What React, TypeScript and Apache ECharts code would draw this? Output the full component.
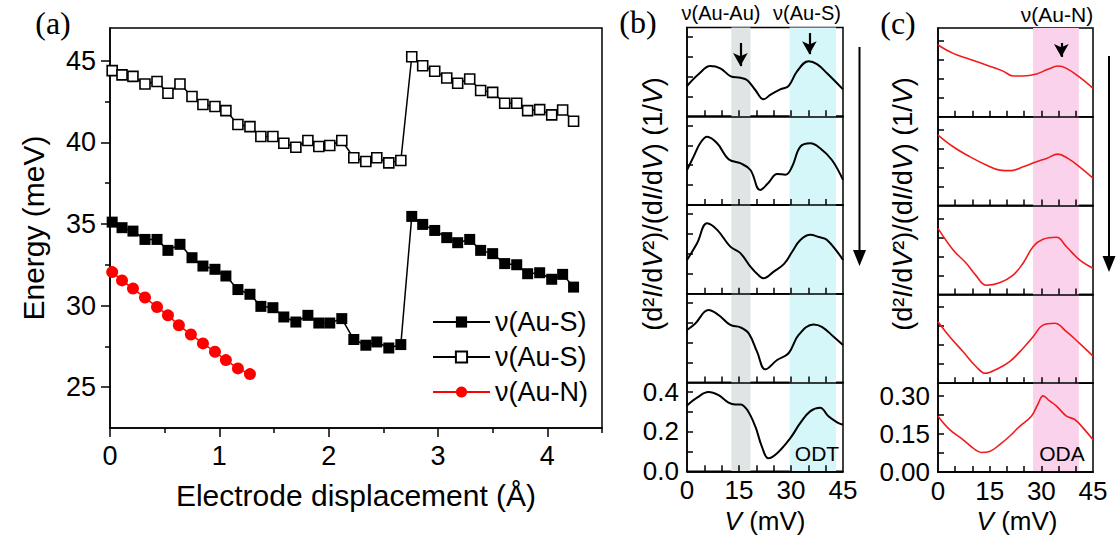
import React, { useEffect, useRef } from "react";
import * as echarts from "echarts";

const FONT = '"Liberation Sans", Arial, Helvetica, sans-serif';
const SERIF = '"Liberation Serif", "Times New Roman", serif';

// ---------- Panel (a) ----------
const displacement = [0.02, 0.11, 0.21, 0.32, 0.43, 0.53, 0.64, 0.75, 0.85, 0.96, 1.06, 1.17, 1.28, 1.38, 1.49, 1.59, 1.7, 1.81, 1.91, 2.01, 2.12, 2.23, 2.34, 2.44, 2.55, 2.66, 2.76, 2.86, 2.97, 3.08, 3.18, 3.29, 3.39, 3.5, 3.61, 3.72, 3.82, 3.93, 4.04, 4.14, 4.24];
const auSFilled = [35.11, 34.77, 34.56, 34.05, 34.05, 33.38, 33.75, 32.93, 32.42, 32.22, 31.81, 30.98, 30.69, 29.95, 29.87, 29.3, 28.99, 29.4, 28.93, 28.93, 29.2, 27.92, 27.57, 27.77, 27.4, 27.61, 35.46, 34.97, 34.6, 34.16, 33.85, 34.05, 33.38, 33.18, 32.57, 32.5, 31.95, 32.01, 31.61, 31.91, 31.13];
const auSOpen = [44.39, 44.13, 44.04, 43.57, 43.72, 43.0, 43.57, 42.8, 42.31, 42.19, 41.94, 41.09, 40.96, 40.35, 40.35, 39.94, 39.7, 40.11, 39.74, 39.8, 40.11, 39.05, 38.82, 39.05, 38.74, 38.88, 45.24, 44.69, 44.35, 43.94, 43.62, 43.88, 43.17, 43.06, 42.39, 42.39, 41.94, 42.0, 41.68, 41.98, 41.29];
const displacementN = [0.02, 0.11, 0.21, 0.32, 0.43, 0.53, 0.63, 0.74, 0.85, 0.96, 1.06, 1.17, 1.28];
const auN = [32.05, 31.54, 31.04, 30.49, 29.91, 29.4, 28.79, 28.23, 27.68, 27.17, 26.66, 26.15, 25.8];
const aXTicks = [0, 1, 2, 3, 4];
const aXMinor = [0.5, 1.5, 2.5, 3.5, 4.5];
const aYTicks = [25, 30, 35, 40, 45];
const aYMinor = [27.5, 32.5, 37.5, 42.5];

// ---------- Panel (b) ODT spectra (top to bottom) ----------
const odtV1 = [0, 3.4, 6.7, 9.6, 12.5, 15.4, 17.3, 19.7, 22.1, 24, 26.9, 29.3, 31.7, 35.1, 37.5, 40.4, 45];
const odtY1 = [0.152, 0.212, 0.252, 0.241, 0.202, 0.193, 0.182, 0.132, 0.085, 0.107, 0.135, 0.152, 0.224, 0.277, 0.262, 0.216, 0.135];
const odtV2 = [0, 1.9, 3.8, 5.8, 8.7, 12, 15.4, 18.3, 21.1, 23.5, 26, 28.4, 30.3, 32.7, 35.6, 38.4, 41.8, 45];
const odtY2 = [0.176, 0.243, 0.31, 0.343, 0.31, 0.23, 0.21, 0.176, 0.075, 0.112, 0.156, 0.152, 0.192, 0.293, 0.31, 0.285, 0.226, 0.126];
const odtV3 = [0, 2.9, 5.8, 8.7, 12.5, 15.4, 18.3, 20.5, 22.1, 25, 28, 30.3, 32.7, 35.6, 38, 40.4, 45];
const odtY3 = [0.17, 0.254, 0.354, 0.321, 0.237, 0.204, 0.136, 0.095, 0.078, 0.111, 0.15, 0.21, 0.27, 0.296, 0.285, 0.27, 0.17];
const odtV4 = [0, 2.4, 6.2, 9.1, 12.5, 15.4, 17.8, 20.2, 22.6, 26, 29.3, 32.2, 36.5, 38.9, 42.3, 45];
const odtY4 = [0.264, 0.297, 0.364, 0.339, 0.289, 0.277, 0.247, 0.155, 0.066, 0.113, 0.147, 0.239, 0.292, 0.28, 0.23, 0.188];
const odtV5 = [0, 2.9, 6.2, 9.1, 12, 13.9, 15.4, 17.3, 19.7, 21.6, 23.5, 26, 29.8, 32.7, 35.6, 38.4, 40.8, 43.3, 45];
const odtY5 = [0.331, 0.37, 0.398, 0.382, 0.345, 0.336, 0.336, 0.31, 0.225, 0.124, 0.065, 0.09, 0.166, 0.243, 0.302, 0.319, 0.276, 0.246, 0.234];

// ---------- Panel (c) ODA spectra (top to bottom) ----------
const odaV1 = [0, 4.4, 9.2, 14, 18.9, 21.8, 24.7, 28.6, 31.9, 34.8, 37.3, 41.1, 45];
const odaY1 = [0.283, 0.25, 0.227, 0.204, 0.18, 0.161, 0.161, 0.169, 0.187, 0.2, 0.191, 0.156, 0.112];
const odaV2 = [0, 4.4, 9.2, 14, 17.9, 21.3, 24.7, 28.6, 31.5, 34.8, 37.7, 41.1, 45];
const odaY2 = [0.278, 0.232, 0.193, 0.16, 0.14, 0.138, 0.153, 0.173, 0.186, 0.203, 0.186, 0.153, 0.108];
const odaV3 = [0, 4.4, 8.2, 11, 14, 17.9, 21.8, 24.7, 27.6, 30.5, 34.4, 37.3, 41.1, 45];
const odaY3 = [0.26, 0.175, 0.123, 0.075, 0.036, 0.046, 0.076, 0.123, 0.188, 0.217, 0.225, 0.188, 0.136, 0.103];
const odaV4 = [0, 3.4, 7.3, 11.1, 13.8, 17, 20.8, 24.7, 27.6, 30.5, 33.9, 37.3, 41.1, 45];
const odaY4 = [0.242, 0.183, 0.124, 0.065, 0.039, 0.055, 0.085, 0.138, 0.183, 0.229, 0.236, 0.203, 0.157, 0.107];
const odaV5 = [0, 3.4, 7.3, 10.2, 12.6, 15, 17.9, 20.8, 23.7, 27.1, 29, 30.5, 32.4, 34.4, 37.3, 39.7, 42.1, 45];
const odaY5 = [0.22, 0.167, 0.127, 0.094, 0.077, 0.081, 0.108, 0.141, 0.18, 0.22, 0.267, 0.3, 0.28, 0.26, 0.22, 0.207, 0.174, 0.127];

const vTicks = [5, 10, 15, 20, 25, 30, 35, 40];
const vLabels = [0, 15, 30, 45];
const bYTicks = [0.1, 0.2, 0.3, 0.4];
const bYLabels = [0, 0.2, 0.4];
const cYTicks = [0.075, 0.15, 0.225, 0.3];
const cYLabels = [0, 0.15, 0.3];
const bandAuAu = [12.8, 18.3];
const bandAuS = [29.6, 43.0];
const bandAuN = [27.6, 40.9];
// arrows: [V, from, to]
const arrowAuAu = [15.4, 0.368, 0.252];
const arrowAuS = [35.3, 0.418, 0.312];
const arrowAuN = [35.8, 0.291, 0.236];

const pairs = (xs: number[], ys: number[]) => xs.map((x, i) => [x, ys[i]]);

const BL = 687, BW = 156, BT = 27.5, BH = 88.75;
const CL = 938, CW = 155, CT = 28, CH = 88.8;

function buildOption() {
  const grids: any[] = [];
  const xAxes: any[] = [];
  const yAxes: any[] = [];
  const series: any[] = [];
  const black = { color: "#000", width: 1.5 };
  const tickLabelStyle = { color: "#000", fontFamily: FONT };

  // ---- panel (a) ----
  grids.push({ left: 110, top: 28, width: 492, height: 400, show: true, borderColor: "#000", borderWidth: 1.5, backgroundColor: "transparent" });
  xAxes.push({
    gridIndex: 0, type: "value", min: 0, max: 4.5, interval: 0.5, position: "bottom", z: 3,
    axisLine: { show: true, lineStyle: black },
    axisTick: { show: true, length: 9, customValues: aXTicks, lineStyle: black },
    axisLabel: { customValues: aXTicks, formatter: (v: number) => (Number.isInteger(v) ? String(v) : ""), fontSize: 27, margin: 14, ...tickLabelStyle },
    splitLine: { show: false },
    name: "Electrode displacement (Å)", nameLocation: "middle", nameGap: 52,
    nameTextStyle: { fontSize: 30, color: "#000", fontFamily: FONT },
  });
  xAxes.push({
    gridIndex: 0, type: "value", min: 0, max: 4.5, interval: 0.5, position: "bottom", z: 3,
    axisLine: { show: false },
    axisTick: { show: true, length: 5, customValues: aXMinor, lineStyle: black },
    axisLabel: { show: false }, splitLine: { show: false },
  });
  yAxes.push({
    gridIndex: 0, type: "value", min: 22.5, max: 47, interval: 2.5, position: "left", z: 3,
    axisLine: { show: true, lineStyle: black },
    axisTick: { show: true, length: 9, customValues: aYTicks, lineStyle: black },
    axisLabel: { customValues: aYTicks, formatter: (v: number) => (v % 5 === 0 ? String(v) : ""), fontSize: 27, margin: 14, ...tickLabelStyle },
    splitLine: { show: false },
    name: "Energy (meV)", nameLocation: "middle", nameGap: 62, nameRotate: 90,
    nameTextStyle: { fontSize: 30, color: "#000", fontFamily: FONT },
  });
  yAxes.push({
    gridIndex: 0, type: "value", min: 22.5, max: 47, interval: 2.5, position: "left", z: 3,
    axisLine: { show: false },
    axisTick: { show: true, length: 5, customValues: aYMinor, lineStyle: black },
    axisLabel: { show: false }, splitLine: { show: false },
  });
  series.push({
    name: "ν(Au-S)", type: "line", xAxisIndex: 0, yAxisIndex: 0, z: 5,
    data: pairs(displacement, auSFilled), symbol: "rect", symbolSize: 11,
    lineStyle: { color: "#000", width: 1.5 }, itemStyle: { color: "#000" },
  });
  series.push({
    name: "ν(Au-S) ", type: "line", xAxisIndex: 0, yAxisIndex: 0, z: 5,
    data: pairs(displacement, auSOpen), symbol: "rect", symbolSize: 10,
    lineStyle: { color: "#000", width: 1.5 }, itemStyle: { color: "#fff", borderColor: "#000", borderWidth: 1.6 },
  });
  series.push({
    name: "ν(Au-N)", type: "line", xAxisIndex: 0, yAxisIndex: 0, z: 5,
    data: pairs(displacementN, auN), symbol: "circle", symbolSize: 12,
    lineStyle: { color: "#ff0000", width: 1.5 }, itemStyle: { color: "#ff0000" },
  });

  // ---- stacked panels helper ----
  const stacked = (
    left: number, width: number, top: number, h: number, yMax: number,
    yTicks: number[], yLabels: number[], digits: number,
    curves: number[][][], color: string, lw: number,
    bands: { range: number[]; color: string }[], arrows: number[][]
  ) => {
    for (let k = 0; k < 5; k++) {
      const gi = grids.length;
      const ai = xAxes.length;
      grids.push({ left, top: top + h * k, width, height: h, show: true, borderColor: "#000", borderWidth: 1.5, backgroundColor: "transparent" });
      const last = k === 4;
      xAxes.push({
        gridIndex: gi, type: "value", min: 0, max: 45, interval: 5, position: "bottom", z: 3,
        axisLine: { show: true, lineStyle: black },
        axisTick: { show: true, inside: true, length: 6, customValues: vTicks, lineStyle: black },
        axisLabel: { show: last, customValues: vLabels, formatter: (v: number) => (v % 15 === 0 ? String(v) : ""), fontSize: 26, margin: 6, ...tickLabelStyle },
        splitLine: { show: false },
      });
      yAxes.push({
        gridIndex: gi, type: "value", min: 0, max: yMax, position: "left", z: 3,
        axisLine: { show: true, lineStyle: black },
        axisTick: { show: true, inside: true, length: 6, customValues: yTicks, lineStyle: black },
        axisLabel: { show: last, customValues: yLabels, formatter: (v: number) => v.toFixed(digits), fontSize: 26, margin: 8, ...tickLabelStyle },
        splitLine: { show: false },
      });
      const s: any = {
        type: "line", xAxisIndex: ai, yAxisIndex: ai, z: 6, smooth: 0.4, showSymbol: false, symbol: "none",
        data: pairs(curves[k][0], curves[k][1]), lineStyle: { color, width: lw }, silent: true,
      };
      if (k === 0) {
        s.markLine = {
          silent: true, symbol: ["none", "arrow"], symbolSize: [11, 13],
          lineStyle: { color: "#000", width: 2.2, type: "solid" }, label: { show: false },
          data: arrows.map((a) => [{ coord: [a[0], a[1]] }, { coord: [a[0], a[2]] }]),
        };
      }
      series.push(s);
    }
    // overlay grid for continuous bands + top frame line
    const oi = grids.length;
    const oa = xAxes.length;
    grids.push({ left, top, width, height: h * 5, show: false });
    xAxes.push({
      gridIndex: oi, type: "value", min: 0, max: 45, position: "top", z: 3,
      axisLine: { show: true, lineStyle: black }, axisTick: { show: false }, axisLabel: { show: false }, splitLine: { show: false },
    });
    yAxes.push({ gridIndex: oi, type: "value", min: 0, max: 1, show: false });
    series.push({
      type: "line", xAxisIndex: oa, yAxisIndex: oa, z: 1, data: [], silent: true,
      markArea: {
        silent: true,
        data: bands.map((b) => [{ xAxis: b.range[0], itemStyle: { color: b.color } }, { xAxis: b.range[1] }]),
      },
    });
  };

  stacked(BL, BW, BT, BH, 0.446, bYTicks, bYLabels, 1,
    [[odtV1, odtY1], [odtV2, odtY2], [odtV3, odtY3], [odtV4, odtY4], [odtV5, odtY5]],
    "#000", 2,
    [{ range: bandAuAu, color: "#dfe4e4" }, { range: bandAuS, color: "#d6f7fa" }],
    [arrowAuAu, arrowAuS]);
  stacked(CL, CW, CT, CH, 0.35, cYTicks, cYLabels, 2,
    [[odaV1, odaY1], [odaV2, odaY2], [odaV3, odaY3], [odaV4, odaY4], [odaV5, odaY5]],
    "#f01c1c", 1.6,
    [{ range: bandAuN, color: "#fbd2ec" }],
    [arrowAuN]);

  const yTitle = "(d²{i|I}/d{i|V}²)/(d{i|I}/d{i|V}) (1/{i|V})";
  const txt = (x: number, y: number, text: string, size: number, extra: any = {}) => ({
    type: "text", x, y, z: 10,
    style: { text, fontSize: size, fontFamily: FONT, fill: "#000", align: "center", verticalAlign: "middle", ...extra },
  });
  const italicRich = (size: number) => ({ i: { fontStyle: "italic", fontSize: size, fontFamily: FONT, fill: "#000" } });

  const graphic: any[] = [
    txt(53, 23, "(a)", 32, { fontFamily: SERIF }),
    txt(638, 22, "(b)", 32, { fontFamily: SERIF }),
    txt(898, 23, "(c)", 32, { fontFamily: SERIF }),
    txt(721, 13, "ν(Au-Au)", 20),
    txt(807, 13, "ν(Au-S)", 20),
    txt(1057, 14, "ν(Au-N)", 21),
    txt(817, 453, "ODT", 21),
    txt(1062, 453, "ODA", 21),
    { ...txt(653, 204, yTitle, 27, { rich: italicRich(27) }), rotation: Math.PI / 2 },
    { ...txt(903, 204, yTitle, 27, { rich: italicRich(27) }), rotation: Math.PI / 2 },
    txt(765, 521, "{i|V} (mV)", 26, { rich: italicRich(26) }),
    txt(1017, 521, "{i|V} (mV)", 26, { rich: italicRich(26) }),
    { type: "line", z: 10, shape: { x1: 859.5, y1: 47, x2: 859.5, y2: 252 }, style: { stroke: "#000", lineWidth: 2 } },
    { type: "polygon", z: 10, shape: { points: [[853, 250], [866, 250], [859.5, 266]] }, style: { fill: "#000" } },
    { type: "line", z: 10, shape: { x1: 1109, y1: 56, x2: 1109, y2: 258 }, style: { stroke: "#000", lineWidth: 2 } },
    { type: "polygon", z: 10, shape: { points: [[1102.5, 256], [1115.5, 256], [1109, 272]] }, style: { fill: "#000" } },
  ];

  return {
    animation: false,
    backgroundColor: "#fff",
    textStyle: { fontFamily: FONT },
    grid: grids,
    xAxis: xAxes,
    yAxis: yAxes,
    series,
    graphic,
    legend: {
      data: ["ν(Au-S)", "ν(Au-S) ", "ν(Au-N)"],
      orient: "vertical", left: 432, top: 307, padding: 0,
      itemWidth: 57, itemHeight: 14, itemGap: 5,
      formatter: (n: string) => n.trim(),
      textStyle: { fontSize: 27, fontFamily: FONT, color: "#000", lineHeight: 30 },
      selectedMode: false,
    },
  };
}

export default function App() {
  const ref = useRef<HTMLDivElement>(null);
  useEffect(() => {
    if (!ref.current) return;
    const chart = echarts.init(ref.current, null, { renderer: "svg", width: 1116, height: 543 });
    chart.setOption(buildOption() as any);
    return () => chart.dispose();
  }, []);
  return <div ref={ref} style={{ position: "fixed", left: 0, top: 0, width: 1116, height: 543, background: "#fff" }} />;
}
